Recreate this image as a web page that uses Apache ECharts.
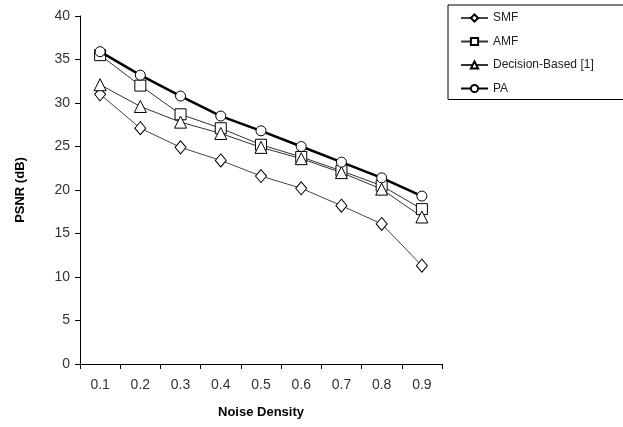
<!DOCTYPE html>
<html><head><meta charset="utf-8">
<script src="https://cdn.jsdelivr.net/npm/echarts@6/dist/echarts.min.js"></script>
<style>html,body{margin:0;padding:0;background:#fff}#c{width:623px;height:427px}</style>
</head><body><div id="c"></div>
<script>
const categories = ['0.1','0.2','0.3','0.4','0.5','0.6','0.7','0.8','0.9'];
const smf = [31.0, 27.1, 24.9, 23.4, 21.6, 20.2, 18.2, 16.1, 11.3];
const amf = [35.5, 32.0, 28.7, 27.1, 25.2, 23.8, 22.2, 20.5, 17.8];
const decision = [32.1, 29.6, 27.8, 26.5, 24.9, 23.6, 22.0, 20.1, 16.9];
const pa = [35.9, 33.2, 30.8, 28.5, 26.8, 25.0, 23.2, 21.4, 19.3];
const yTicks = [0,5,10,15,20,25,30,35,40];

const chart = echarts.init(document.getElementById('c'));
function mk(name, data, symbol, size, width, color) {
  return {
    name, type: 'line', data, symbol, symbolSize: size, showAllSymbol: true,
    lineStyle: { color, width },
    itemStyle: { color: '#fff', borderColor: '#000', borderWidth: 1 },
    emphasis: { disabled: true }, animation: false, z: name === 'PA' ? 5 : 3
  };
}
chart.setOption({
  animation: false,
  grid: { left: 80, right: 181, top: 16, bottom: 63 },
  legend: {
    orient: 'vertical', left: 448, top: 5, width: 174,
    padding: [7, 40, 5, 12], itemGap: 11.5, itemWidth: 27, itemHeight: 9,
    borderColor: '#000', borderWidth: 1, backgroundColor: '#fff',
    textStyle: { fontFamily: 'Liberation Sans', fontSize: 12, color: '#222' },
    data: ['SMF','AMF','Decision-Based [1]','PA']
  },
  xAxis: {
    type: 'category', data: categories, boundaryGap: true,
    name: 'Noise Density', nameLocation: 'middle', nameGap: 42,
    nameTextStyle: { fontFamily: 'Liberation Sans', fontWeight: 'bold', fontSize: 13, color: '#000' },
    axisLine: { lineStyle: { color: '#000', width: 1 } },
    axisTick: { show: true, length: 5, inside: false, alignWithLabel: false, lineStyle: { color: '#000' } },
    axisLabel: { fontFamily: 'Liberation Sans', fontSize: 14, color: '#333', margin: 14 },
    splitLine: { show: false }
  },
  yAxis: {
    type: 'value', min: 0, max: 40, interval: 5,
    name: 'PSNR (dB)', nameLocation: 'middle', nameGap: 53, nameRotate: 90,
    nameTextStyle: { fontFamily: 'Liberation Sans', fontWeight: 'bold', fontSize: 13, color: '#000' },
    axisLine: { show: true, lineStyle: { color: '#000', width: 1 } },
    axisTick: { show: true, length: 5, lineStyle: { color: '#000' } },
    axisLabel: { fontFamily: 'Liberation Sans', fontSize: 14, color: '#333', margin: 10,
      formatter: v => yTicks.includes(v) ? String(v) : '' },
    splitLine: { show: false }
  },
  series: [
    mk('SMF', smf, 'diamond', [11, 13], 1, '#444'),
    mk('AMF', amf, 'rect', 11, 1, '#333'),
    mk('Decision-Based [1]', decision, 'triangle', 12, 1, '#333'),
    mk('PA', pa, 'circle', 10, 2.5, '#000')
  ]
});
</script></body></html>
